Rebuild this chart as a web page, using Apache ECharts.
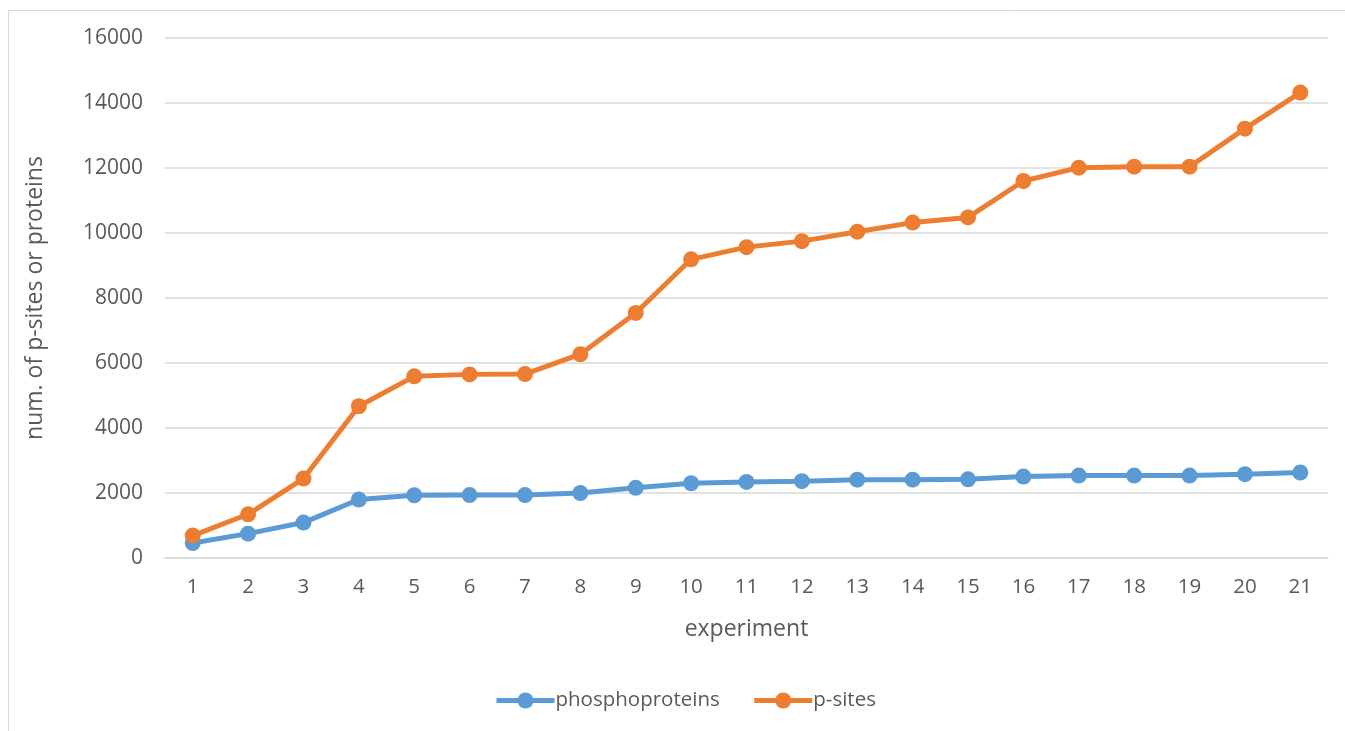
<!DOCTYPE html>
<html>
<head>
<meta charset="utf-8">
<script src="https://cdn.jsdelivr.net/npm/echarts@6/dist/echarts.min.js"></script>
<style>
  html, body { margin: 0; padding: 0; background: #ffffff; }
  #chart { width: 1345px; height: 731px; }
</style>
</head>
<body>
<div id="chart"></div>
<script>
// Experiment numbers along the x axis
const experiments = ['1','2','3','4','5','6','7','8','9','10','11','12','13','14','15','16','17','18','19','20','21'];

// Cumulative phosphoproteins identified per experiment
const phosphoproteins = [460, 750, 1090, 1800, 1930, 1935, 1935, 2000, 2160, 2300, 2340, 2365, 2410, 2410, 2420, 2505, 2535, 2535, 2535, 2580, 2630];

// Cumulative phosphorylation sites identified per experiment
const pSites = [690, 1345, 2445, 4670, 5590, 5650, 5660, 6270, 7540, 9190, 9565, 9750, 10040, 10320, 10480, 11600, 12010, 12040, 12040, 13210, 14320];

// Value axis ticks
const yMin = 0, yMax = 16000, yStep = 2000;

const seriesNames = ['phosphoproteins', 'p-sites'];
const seriesColors = ['#5B9BD5', '#ED7D31'];

const FONT = '"Open Sans", sans-serif';
const TEXT = '#595959';

const chart = echarts.init(document.getElementById('chart'), null, { renderer: 'canvas' });

function lineSeries(name, data, color) {
  return {
    name: name,
    type: 'line',
    data: data,
    symbol: 'circle',
    symbolSize: 16,
    lineStyle: { width: 5, color: color },
    itemStyle: { color: color },
    emphasis: { disabled: true },
    animation: false
  };
}

chart.setOption({
  backgroundColor: '#ffffff',
  animation: false,
  graphic: [{
    type: 'rect',
    shape: { x: 8.5, y: 10.5, width: 1400, height: 800 },
    style: { fill: 'none', stroke: '#d9d9d9', lineWidth: 1 },
    silent: true
  }],
  grid: { left: 165, right: 17, top: 38, bottom: 173, containLabel: false },
  legend: {
    bottom: 15,
    left: 489,
    itemWidth: 58,
    itemHeight: 20,
    itemGap: 32,
    lineStyle: { width: 5 },
    textStyle: { color: TEXT, fontFamily: FONT, fontSize: 20.5, padding: [0, 0, 0, -4] },
    data: seriesNames
  },
  xAxis: {
    type: 'category',
    data: experiments,
    boundaryGap: true,
    name: 'experiment',
    nameLocation: 'middle',
    nameGap: 60,
    nameTextStyle: { color: TEXT, fontFamily: FONT, fontSize: 23 },
    axisLine: { show: true, lineStyle: { color: '#d9d9d9', width: 1.5 } },
    axisTick: { show: false },
    axisLabel: { color: TEXT, fontFamily: FONT, fontSize: 20.5, margin: 19 },
    splitLine: { show: false }
  },
  yAxis: {
    type: 'value',
    min: yMin,
    max: yMax,
    interval: yStep,
    name: 'num. of p-sites or proteins',
    nameLocation: 'middle',
    nameGap: 118,
    nameTextStyle: { color: TEXT, fontFamily: FONT, fontSize: 23 },
    axisLine: { show: false },
    axisTick: { show: false },
    axisLabel: { color: TEXT, fontFamily: FONT, fontSize: 21, margin: 22, formatter: v => String(v) },
    splitLine: { show: true, lineStyle: { color: '#d9d9d9', width: 1.5 } }
  },
  series: [
    lineSeries(seriesNames[0], phosphoproteins, seriesColors[0]),
    lineSeries(seriesNames[1], pSites, seriesColors[1])
  ]
});
</script>
</body>
</html>
